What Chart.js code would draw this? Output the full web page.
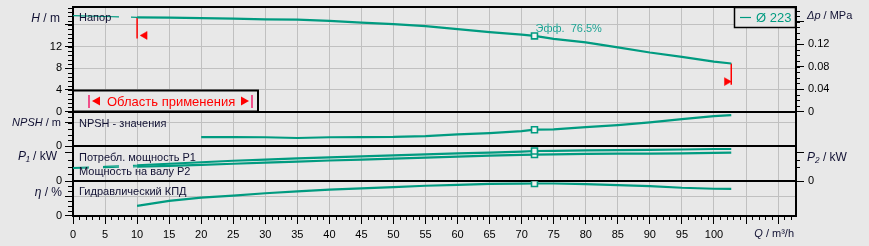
<!DOCTYPE html>
<html>
<head>
<meta charset="utf-8">
<script src="https://cdn.jsdelivr.net/npm/chart.js@4"></script>
<style>
  html, body { margin: 0; padding: 0; background: #e8e8e8; }
  #wrap { width: 869px; height: 246px; }
</style>
</head>
<body>
<div id="wrap"><canvas id="pumpChart" width="869" height="246"></canvas></div>
<script>
// flow points inside the working range, m3/h
const flowQ = [10, 15, 20, 25, 30, 35, 40, 45, 50, 55, 60, 65, 70, 72, 75, 80, 85, 90, 95, 100, 102.7];
const headH = [17.4, 17.35, 17.25, 17.15, 17.0, 16.95, 16.75, 16.4, 16.15, 15.75, 15.2, 14.65, 14.2, 13.96, 13.4, 12.78, 11.85, 10.9, 10.1, 9.2, 8.86];
const npshM = [null, null, 1.58, 1.58, 1.55, 1.42, 1.55, 1.58, 1.6, 1.75, 2.03, 2.25, 2.59, 2.83, 2.88, 3.27, 3.61, 4.07, 4.63, 5.14, 5.31];
const powerP1 = [2.22, 2.43, 2.64, 2.85, 3.01, 3.19, 3.33, 3.47, 3.61, 3.75, 3.89, 3.99, 4.12, 4.21, 4.24, 4.31, 4.33, 4.36, 4.42, 4.49, 4.49];
const powerP2 = [2.01, 2.13, 2.26, 2.43, 2.6, 2.74, 2.88, 3.01, 3.15, 3.29, 3.43, 3.57, 3.67, 3.71, 3.75, 3.82, 3.85, 3.85, 3.88, 3.96, 3.99];
const etaPct = [24, 35.6, 43.3, 47.9, 53.5, 58.1, 61.9, 65.1, 68.1, 71.2, 73.5, 75.6, 76.4, 76.5, 76.5, 75.1, 72.8, 70.5, 66.5, 64.2, 64.0];

// below the working range (thin lines)
const flowLow = [0, 5, 10];
const headLow = [17.7, 17.55, 17.4];
const p1Low = [1.9, 2.05, 2.22];
const p2Low = [1.78, 1.9, 2.01];

// working range limits + arrows
const rangeQ = [10, 102.7];
const rangeBottomH = [13.5, 4.95];
const arrowQ = [11.2, 102.0];
const arrowH = [14.05, 5.52];

const bepQ = 72;
const diameter = 'Ø 223';

// tick labels
const qTicks = [0, 5, 10, 15, 20, 25, 30, 35, 40, 45, 50, 55, 60, 65, 70, 75, 80, 85, 90, 95, 100, 105, 110];
const hTicks = [0, 4, 8, 12, 16];
const dpTicks = [0, 0.04, 0.08, 0.12, 0.16];
const npshTicks = [0, 4];
const pTicks = [0, 4];
const etaTicks = [0, 47];

const TEAL = '#009b80';
const BG = '#e8e8e8';
const GRID = '#c0c0c0';
const FONT = 'Liberation Sans, Arial, sans-serif';
const FS = 11;

const bepIdx = flowQ.indexOf(bepQ);
const pts = (xs, ys) => xs.map((x, i) => ({ x: x, y: ys[i] }));

function curve(data, yAxisID) {
  return {
    data: data, yAxisID: yAxisID, xAxisID: 'x',
    borderColor: TEAL, borderWidth: 2.2, tension: 0, fill: false,
    pointStyle: 'rect',
    pointRadius: c => c.dataIndex === bepIdx ? 4.2 : 0,
    pointBackgroundColor: '#f2f2f2', pointBorderColor: TEAL, pointBorderWidth: 1.6
  };
}
function thin(data, yAxisID, dash) {
  return { data: data, yAxisID: yAxisID, xAxisID: 'x', borderColor: TEAL, borderWidth: 1.2,
           borderDash: dash, pointRadius: 0, tension: 0, fill: false };
}
function setTicks(list) {
  return s => { s.ticks = list.map(v => ({ value: v })); };
}
const fitY = s => { s.width = 73; s.paddingTop = 0; s.paddingBottom = 0; };
const gridAt = (list) => c => (c.tick && list.includes(c.tick.value)) ? GRID : 'rgba(0,0,0,0)';

function yAxis(pos, weight, lw, min, max, ticks, label, gridVals, padding) {
  return {
    type: 'linear', position: pos, stack: pos, stackWeight: weight, weight: lw,
    min: min, max: max,
    afterFit: fitY,
    afterBuildTicks: setTicks(ticks),
    ticks: { callback: label, font: { family: FONT, size: FS }, color: '#000', padding: padding,
             autoSkip: false },
    grid: { display: true, drawOnChartArea: pos === 'left', color: gridAt(gridVals),
            tickColor: '#000', tickLength: 8, lineWidth: 1 },
    border: { color: '#000', width: 2 }
  };
}
const zeroOnly = v => v === 0 ? '0' : '';

// minor ticks, axis titles, boxes
const decor = {
  id: 'decor',
  beforeDraw(chart) {
    const c = chart.ctx;
    c.save(); c.fillStyle = BG; c.fillRect(0, 0, chart.width, chart.height); c.restore();
  },
  beforeDatasetsDraw(chart) {
    const { ctx, chartArea: a, scales: s } = chart;
    ctx.save();
    ctx.strokeStyle = '#000';
    ctx.lineWidth = 1;
    const minors = [
      ['yH', 'l', 0.8, 0, 19.2], ['yN', 'l', 1, 1, 5], ['yP', 'l', 1, 1, 3], ['yEta', 'l', 47 / 4, 47 / 4, 80],
      ['yDp', 'r', 0.01, 0.01, 0.18], ['yP2', 'r', 1, 2, 3]
    ];
    minors.forEach(m => {
      const sc = s[m[0]];
      for (let v = m[3]; v <= m[4] + 1e-9; v += m[2]) {
        const y = Math.round(sc.getPixelForValue(v)) + 0.5;
        ctx.beginPath();
        if (m[1] === 'l') { ctx.moveTo(a.left - 5, y); ctx.lineTo(a.left, y); }
        else { ctx.moveTo(a.right, y); ctx.lineTo(a.right + 4, y); }
        ctx.stroke();
      }
    });
    for (let q = 1; q < s.x.max; q++) {
      if (q % 5 === 0) continue;
      const x = Math.round(s.x.getPixelForValue(q)) + 0.5;
      ctx.beginPath(); ctx.moveTo(x, a.bottom); ctx.lineTo(x, a.bottom + 4); ctx.stroke();
    }
    // panel separators
    ctx.lineWidth = 2;
    ['yH', 'yN', 'yP', 'yEta'].forEach(id => {
      [s[id].top, s[id].bottom].forEach(y => {
        const yy = Math.round(y);
        ctx.beginPath(); ctx.moveTo(a.left, yy); ctx.lineTo(a.right, yy); ctx.stroke();
      });
    });
    ctx.restore();
  },
  afterDatasetsDraw(chart) {
    const { ctx, chartArea: a, scales: s } = chart;
    ctx.save();
    ctx.textBaseline = 'middle';

    function rich(parts, x, y, align, color, size) {
      const fs = (size || FS) + 'px ' + FONT;
      let w = 0;
      parts.forEach(p => { ctx.font = (p[1] ? 'italic ' : '') + fs; w += ctx.measureText(p[0]).width; });
      let cx = align === 'right' ? x - w : x;
      ctx.textAlign = 'left';
      ctx.fillStyle = color || '#000';
      parts.forEach(p => {
        ctx.font = (p[1] ? 'italic ' : '') + fs;
        ctx.fillText(p[0], cx, y);
        cx += ctx.measureText(p[0]).width;
      });
    }
    // axis titles
    const axC = '#111133';
    rich([['H', 1], [' / m', 0]], a.left - 13, s.yH.getPixelForValue(17.2), 'right', axC, 12);
    rich([['NPSH', 1], [' / m', 0]], a.left - 12, s.yN.getPixelForValue(4), 'right', axC);
    rich([['P\u2081', 1], [' / kW', 0]], a.left - 16, s.yP.getPixelForValue(3.4), 'right', axC, 12);
    rich([['\u03b7', 1], [' / %', 0]], a.left - 11, s.yEta.getPixelForValue(56), 'right', axC, 12);
    rich([['\u0394p', 1], [' / MPa', 0]], a.right + 11, s.yDp.getPixelForValue(0.17), 'left', axC);
    rich([['P\u2082', 1], [' / kW', 0]], a.right + 11, s.yP2.getPixelForValue(3.3), 'left', axC, 12);
    rich([['Q', 1], [' / m\u00b3/h', 0]], a.right - 2, a.bottom + 18, 'right', axC);

    // curve names
    const tx = a.left + 6;
    rich([['Напор', 0]], tx, s.yH.getPixelForValue(17.2), 'left', axC);
    rich([['NPSH - значения', 0]], tx, s.yN.getPixelForValue(3.8), 'left', axC);
    rich([['Потребл. мощность P1', 0]], tx, s.yP.getPixelForValue(3.25), 'left', axC);
    rich([['Мощность на валу P2', 0]], tx, s.yP.getPixelForValue(1.32), 'left', axC);
    rich([['Гидравлический КПД', 0]], tx, s.yEta.getPixelForValue(56.5), 'left', axC);

    // efficiency at duty point
    rich([['Эфф.  ' + etaPct[bepIdx].toFixed(1) + '%', 0]],
      s.x.getPixelForValue(bepQ) + 1, s.yH.getPixelForValue(headH[bepIdx]) - 7, 'left', '#1fa595');

    // legend box
    const lx = a.right - 62, ly = a.top;
    ctx.fillStyle = BG; ctx.fillRect(lx, ly, 62, 20);
    ctx.strokeStyle = '#000'; ctx.lineWidth = 1.5; ctx.strokeRect(lx + 0.5, ly + 0.5, 61, 20);
    ctx.strokeStyle = TEAL; ctx.lineWidth = 1.2;
    ctx.beginPath(); ctx.moveTo(lx + 6, ly + 10.5); ctx.lineTo(lx + 17, ly + 10.5); ctx.stroke();
    rich([[diameter, 0]], lx + 22, ly + 11, 'left', TEAL, 13);

    // working range box
    const bx = a.left, by = s.yH.bottom - 21, bw = 185, bh = 21;
    ctx.fillStyle = BG; ctx.fillRect(bx, by, bw, bh);
    ctx.strokeStyle = '#000'; ctx.lineWidth = 2; ctx.strokeRect(bx, by, bw, bh);
    const cy = by + 10.5;
    ctx.fillStyle = '#f0508a';
    ctx.fillRect(bx + 15, cy - 6, 2, 13);
    ctx.fillRect(bx + 178, cy - 6, 2, 13);
    ctx.fillStyle = '#ff0000';
    ctx.beginPath(); ctx.moveTo(bx + 19, cy); ctx.lineTo(bx + 27, cy - 4.5); ctx.lineTo(bx + 27, cy + 4.5); ctx.closePath(); ctx.fill();
    ctx.beginPath(); ctx.moveTo(bx + 176, cy); ctx.lineTo(bx + 168, cy - 4.5); ctx.lineTo(bx + 168, cy + 4.5); ctx.closePath(); ctx.fill();
    rich([['Область применения', 0]], bx + 34, cy + 1, 'left', '#ff0000', 13);
    ctx.restore();
  }
};

const datasets = [
  curve(pts(flowQ, headH), 'yH'),
  thin(pts(flowLow, headLow), 'yH', [46, 12]),
  curve(pts(flowQ, npshM), 'yN'),
  curve(pts(flowQ, powerP1), 'yP'),
  curve(pts(flowQ, powerP2), 'yP'),
  thin(pts(flowLow, p1Low), 'yP', [16, 14]),
  thin(pts(flowLow, p2Low), 'yP', [16, 14]),
  curve(pts(flowQ, etaPct), 'yEta'),
  { data: [{ x: rangeQ[0], y: headH[0] }, { x: rangeQ[0], y: rangeBottomH[0] }], yAxisID: 'yH', xAxisID: 'x',
    borderColor: '#ff0000', borderWidth: 1.5, pointRadius: 0 },
  { data: [{ x: rangeQ[1], y: headH[headH.length - 1] }, { x: rangeQ[1], y: rangeBottomH[1] }], yAxisID: 'yH', xAxisID: 'x',
    borderColor: '#ff0000', borderWidth: 1.5, pointRadius: 0 },
  { data: pts(arrowQ, arrowH), yAxisID: 'yH', xAxisID: 'x', showLine: false,
    pointStyle: 'triangle', pointRadius: 4.6, rotation: [-90, 90],
    pointBackgroundColor: '#ff0000', pointBorderColor: '#ff0000', pointBorderWidth: 0.5 }
];

new Chart(document.getElementById('pumpChart').getContext('2d'), {
  type: 'line',
  data: { datasets: datasets },
  options: {
    responsive: false,
    devicePixelRatio: 1,
    animation: false,
    events: [],
    layout: { padding: { top: 7, left: 0, right: 0, bottom: 0 } },
    plugins: { legend: { display: false }, tooltip: { enabled: false } },
    scales: {
      x: {
        type: 'linear', position: 'bottom', min: 0, max: 112.8,
        afterFit: s => { s.height = 30; s.paddingLeft = 0; s.paddingRight = 0; },
        afterBuildTicks: setTicks(qTicks),
        ticks: { callback: v => v <= 100 ? String(v) : '', font: { family: FONT, size: FS }, color: '#000',
                 padding: 4, maxRotation: 0, autoSkip: false },
        grid: { display: true, color: GRID, tickColor: '#000', tickLength: 8, lineWidth: 1 },
        border: { color: '#000', width: 2 }
      },
      yEta: yAxis('left', 1, 1, 0, 82, etaTicks, zeroOnly, [47], 3),
      yP: yAxis('left', 1, 2, 0, 4.86, pTicks, zeroOnly, [], 3),
      yN: yAxis('left', 1, 3, 0, 5.93, npshTicks, zeroOnly, [4], 3),
      yH: yAxis('left', 3, 4, 0, 19.3, hTicks, v => v === 16 ? '' : String(v), [4, 8, 12, 16], 3),
      yDp: yAxis('right', 3, 1, 0, 0.1865, dpTicks, v => v === 0 ? '0' : (v > 0.15 ? '' : v.toFixed(2)), [], 4),
      yNr: yAxis('right', 1, 2, 0, 1, [], zeroOnly, [], 4),
      yP2: yAxis('right', 1, 3, 0, 4.86, pTicks, zeroOnly, [], 4),
      yEr: yAxis('right', 1, 4, 0, 1, [], zeroOnly, [], 4)
    }
  },
  plugins: [decor]
});
</script>
</body>
</html>
